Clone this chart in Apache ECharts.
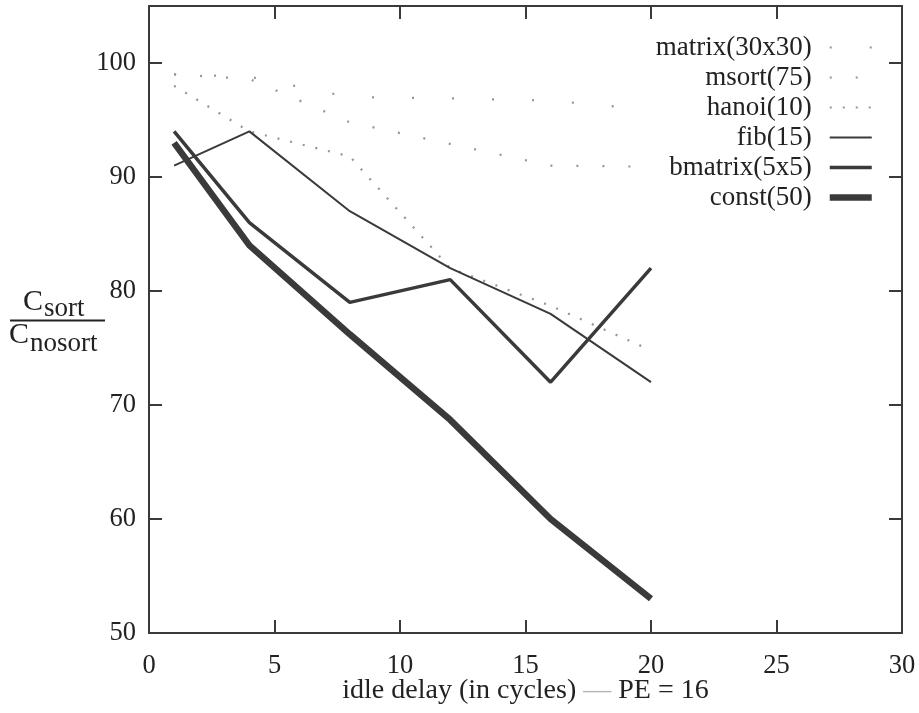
<!DOCTYPE html>
<html>
<head>
<meta charset="utf-8">
<title>Sort cost ratio vs idle delay</title>
<script src="https://cdn.jsdelivr.net/npm/echarts@6/dist/echarts.min.js"></script>
<style>
  html, body { margin: 0; padding: 0; background: #fff; }
  #chart { width: 919px; height: 713px; }
</style>
</head>
<body>
<div id="chart"></div>
<script>
// Idle delay (cycles) at which each benchmark was measured
const delays = [1, 4, 8, 12, 16, 20];

// Ratio C_sort / C_nosort (percent) per benchmark
const matrix30 = [99, 98.8, 97, 96.9, 96.7, 95.9];
const msort75 = [99, 98.6, 94.8, 92.9, 91, 90.9];
const hanoi10 = [98, 94, 91.8, 82, 78.7, 74.8];
const fib15 = [91, 94, 87, 82, 78, 72];
const bmatrix5 = [94, 86, 79, 81, 72, 82];
const const50 = [93, 84, 76.2, 68.7, 60, 53];

const seriesNames = ['matrix(30x30)', 'msort(75)', 'hanoi(10)', 'fib(15)', 'bmatrix(5x5)', 'const(50)'];

const xTicks = { min: 0, max: 30, interval: 5 };
const yTicks = { min: 50, max: 105, interval: 10 };

const FONT = 'Liberation Serif';
const INK = '#3a3a3a';
const TEXT = '#222222';
const DOT = '#959595';

// Stroke style of each benchmark line (used by both the plot and the legend)
const styles = {
  'matrix(30x30)': { color: DOT, width: 2.2, type: [2, 38], cap: 'butt' },
  'msort(75)':     { color: DOT, width: 2.2, type: [2, 24], cap: 'butt' },
  'hanoi(10)':     { color: DOT, width: 2.2, type: [2, 11], cap: 'butt' },
  'fib(15)':       { color: INK, width: 2 },
  'bmatrix(5x5)':  { color: INK, width: 3.5 },
  'const(50)':     { color: INK, width: 6.5 }
};

function pairs(ys) {
  return delays.map((x, i) => [x, ys[i]]);
}

const chart = echarts.init(document.getElementById('chart'), null, { renderer: 'canvas' });

const tickStyle = { show: true, inside: true, length: 13, lineStyle: { color: INK, width: 2 } };
const frameLine = { show: true, onZero: false, lineStyle: { color: INK, width: 2 } };

function lineSeries(name, ys) {
  return {
    name: name,
    type: 'line',
    data: pairs(ys),
    symbol: 'none',
    smooth: false,
    lineStyle: styles[name],
    emphasis: { disabled: true },
    silent: true,
    animation: false
  };
}

const option = {
  backgroundColor: '#ffffff',
  animation: false,
  grid: { left: 149, right: 17, top: 6, bottom: 80, containLabel: false, outerBoundsMode: 'none' },
  legend: {
    orient: 'vertical',
    right: 39,
    top: 29,
    align: 'right',
    itemWidth: 42,
    itemHeight: 14,
    itemGap: 3,
    selectedMode: false,
    itemStyle: { opacity: 0 },
    textStyle: { fontFamily: FONT, fontSize: 27, color: TEXT, lineHeight: 26, padding: [0, 13, 0, 0] },
    data: seriesNames.map(n => ({
      name: n,
      lineStyle: { color: styles[n].color, width: styles[n].width, type: styles[n].type || 'solid', cap: 'butt' }
    }))
  },
  xAxis: [
    {
      type: 'value',
      min: xTicks.min, max: xTicks.max, interval: xTicks.interval,
      name: 'idle delay (in cycles) {d|—} PE = 16',
      nameLocation: 'middle',
      nameGap: 44,
      nameMoveOverlap: false,
      nameTextStyle: {
        fontFamily: FONT, fontSize: 28, color: TEXT,
        rich: { d: { fontFamily: FONT, fontSize: 28, color: '#b4b4b4' } }
      },
      axisLine: frameLine,
      axisTick: tickStyle,
      splitLine: { show: false },
      axisLabel: { fontFamily: FONT, fontSize: 26.5, color: TEXT, margin: 20 }
    },
    {
      type: 'value',
      position: 'top',
      min: xTicks.min, max: xTicks.max, interval: xTicks.interval,
      axisLine: frameLine,
      axisTick: tickStyle,
      splitLine: { show: false },
      axisLabel: { show: false }
    }
  ],
  yAxis: [
    {
      type: 'value',
      position: 'left',
      min: yTicks.min, max: yTicks.max, interval: yTicks.interval,
      axisLine: frameLine,
      axisTick: tickStyle,
      splitLine: { show: false },
      axisLabel: {
        fontFamily: FONT, fontSize: 26.5, color: TEXT, margin: 13,
        formatter: v => (v > 100 ? '' : String(v))
      }
    },
    {
      type: 'value',
      position: 'right',
      min: yTicks.min, max: yTicks.max, interval: yTicks.interval,
      axisLine: frameLine,
      axisTick: tickStyle,
      splitLine: { show: false },
      axisLabel: { show: false }
    }
  ],
  series: [
    lineSeries('matrix(30x30)', matrix30),
    lineSeries('msort(75)', msort75),
    lineSeries('hanoi(10)', hanoi10),
    lineSeries('fib(15)', fib15),
    lineSeries('bmatrix(5x5)', bmatrix5),
    lineSeries('const(50)', const50)
  ],
  graphic: [
    // y-axis title drawn as a fraction: C_sort over C_nosort
    { type: 'text', x: 23, y: 317, silent: true,
      style: { text: 'C', font: '30px "Liberation Serif"', fill: TEXT, verticalAlign: 'bottom' } },
    { type: 'text', x: 44, y: 322, silent: true,
      style: { text: 'sort', font: '27px "Liberation Serif"', fill: TEXT, verticalAlign: 'bottom' } },
    { type: 'line', silent: true,
      shape: { x1: 10, y1: 320.5, x2: 105, y2: 320.5 },
      style: { stroke: TEXT, lineWidth: 2 } },
    { type: 'text', x: 9, y: 350, silent: true,
      style: { text: 'C', font: '30px "Liberation Serif"', fill: TEXT, verticalAlign: 'bottom' } },
    { type: 'text', x: 30, y: 357, silent: true,
      style: { text: 'nosort', font: '27px "Liberation Serif"', fill: TEXT, verticalAlign: 'bottom' } }
  ]
};

chart.setOption(option);
</script>
</body>
</html>
